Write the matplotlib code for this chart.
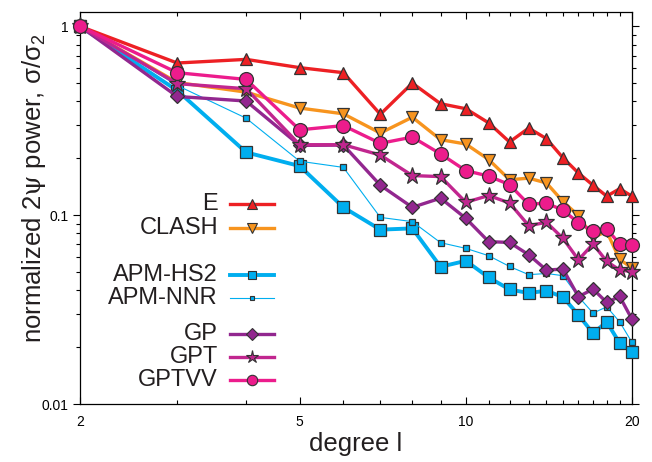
import matplotlib
matplotlib.use("Agg")
import matplotlib.pyplot as plt
from matplotlib.ticker import FixedLocator, NullFormatter, FixedFormatter

plt.rcParams["font.family"] = ["Liberation Sans", "DejaVu Sans"]
plt.rcParams["mathtext.fontset"] = "custom"
plt.rcParams["mathtext.rm"] = "Liberation Sans"
plt.rcParams["mathtext.sf"] = "DejaVu Serif"
plt.rcParams["mathtext.default"] = "regular"

degrees = list(range(2, 21))

e_vals = [1.0, 0.639, 0.668, 0.604, 0.568, 0.342, 0.500, 0.389, 0.366, 0.308,
          0.244, 0.289, 0.254, 0.201, 0.167, 0.144, 0.126, 0.138, 0.126]
clash_vals = [1.0, 0.504, 0.448, 0.369, 0.344, 0.272, 0.330, 0.251, 0.238, 0.197,
              0.154, 0.157, 0.148, 0.118, 0.0994, 0.0762, 0.0820, 0.0583, 0.0525]
apm_hs2_vals = [1.0, 0.457, 0.215, 0.182, 0.110, 0.0838, 0.0851, 0.0533, 0.0573, 0.0468,
                0.0404, 0.0387, 0.0398, 0.0368, 0.0296, 0.0237, 0.0272, 0.0210, 0.0189]
apm_nnr_vals = [1.0, 0.486, 0.326, 0.193, 0.179, 0.0973, 0.0924, 0.0715, 0.0667, 0.0610,
                0.0535, 0.0484, 0.0491, 0.0478, 0.0370, 0.0303, 0.0327, 0.0272, 0.0212]
gp_vals = [1.0, 0.425, 0.402, 0.234, 0.235, 0.144, 0.110, 0.123, 0.0962, 0.0724,
           0.0717, 0.0617, 0.0512, 0.0518, 0.0370, 0.0406, 0.0345, 0.0371, 0.0281]
gpt_vals = [1.0, 0.497, 0.467, 0.236, 0.236, 0.208, 0.162, 0.160, 0.117, 0.127,
            0.116, 0.0880, 0.0916, 0.0753, 0.0580, 0.0704, 0.0569, 0.0512, 0.0503]
gptvv_vals = [1.0, 0.568, 0.523, 0.283, 0.298, 0.240, 0.259, 0.211, 0.172, 0.161,
              0.145, 0.114, 0.116, 0.106, 0.0912, 0.0820, 0.0845, 0.0704, 0.0698]

labels = ["E", "CLASH", "APM-HS2", "APM-NNR", "GP", "GPT", "GPTVV"]
series = [e_vals, clash_vals, apm_hs2_vals, apm_nnr_vals, gp_vals, gpt_vals, gptvv_vals]

# style per series: color, marker, markersize, linewidth
styles = [
    ("#ed2024", "^", 9, 2.4),
    ("#f7941e", "v", 9, 2.4),
    ("#00aeef", "s", 8.5, 2.8),
    ("#00aeef", "s", 4.5, 0.8),
    ("#92278f", "D", 7.5, 2.4),
    ("#c1268f", "*", 12.5, 2.4),
    ("#ec1c8c", "o", 10, 2.4),
]
# legend rows in axes fraction (gaps between groups)
legend_rows = [0.510, 0.449, 0.329, 0.270, 0.179, 0.120, 0.061]

fig = plt.figure(figsize=(6.52, 4.62), dpi=100)
ax = fig.add_axes([0.1227, 0.1255, 0.8466, 0.8485])

edge = "#333333"
for i, (lab, vals) in enumerate(zip(labels, series)):
    color, marker, ms, lw = styles[i]
    ax.plot(degrees, vals, color=color, lw=lw, marker=marker, ms=ms,
            mfc=color, mec=edge, mew=0.9, zorder=3 + i, clip_on=False)
    # legend entry drawn by hand to keep the uneven spacing
    y = legend_rows[i]
    ax.text(0.25, y, lab, transform=ax.transAxes, ha="right", va="center",
            fontsize=17, color="#231f20")
    ax.plot([0.272, 0.351], [y, y], transform=ax.transAxes, color=color, lw=lw)
    ax.plot([0.312], [y], transform=ax.transAxes, marker=marker, ms=ms * 0.75,
            mfc=color, mec=edge, mew=0.8, color=color)

ax.set_xscale("log")
ax.set_yscale("log")
ax.set_xlim(2, 20)
ax.set_ylim(0.01, 1.19)

ax.xaxis.set_major_locator(FixedLocator([2, 5, 10, 20]))
ax.xaxis.set_major_formatter(FixedFormatter(["2", "5", "10", "20"]))
ax.xaxis.set_minor_locator(FixedLocator([3, 4, 6, 7, 8, 9, 11, 12, 13, 14, 15, 16, 17, 18, 19]))
ax.xaxis.set_minor_formatter(NullFormatter())
ax.yaxis.set_major_locator(FixedLocator([0.01, 0.1, 1]))
ax.yaxis.set_major_formatter(FixedFormatter(["0.01", "0.1", "1"]))
ax.yaxis.set_minor_locator(FixedLocator([k * 0.01 for k in range(2, 10)] + [k * 0.1 for k in range(2, 10)]))
ax.yaxis.set_minor_formatter(NullFormatter())

ax.tick_params(axis="x", which="both", direction="in", top=True, labelsize=10, pad=8)
ax.tick_params(axis="y", which="both", direction="out", right=True, labelsize=10)
ax.tick_params(which="major", length=5, width=0.8)
ax.tick_params(which="minor", length=3, width=0.8)
for s in ax.spines.values():
    s.set_linewidth(0.9)

ax.set_xlabel("degree l", fontsize=18.5, color="#231f20", labelpad=2)
ax.set_ylabel(r"normalized 2$\mathsf{\psi}$ power, σ/σ$_2$", fontsize=18.5, color="#231f20")
ax.yaxis.set_label_coords(-0.058, 0.55)

fig.savefig("out.png", dpi=100)
